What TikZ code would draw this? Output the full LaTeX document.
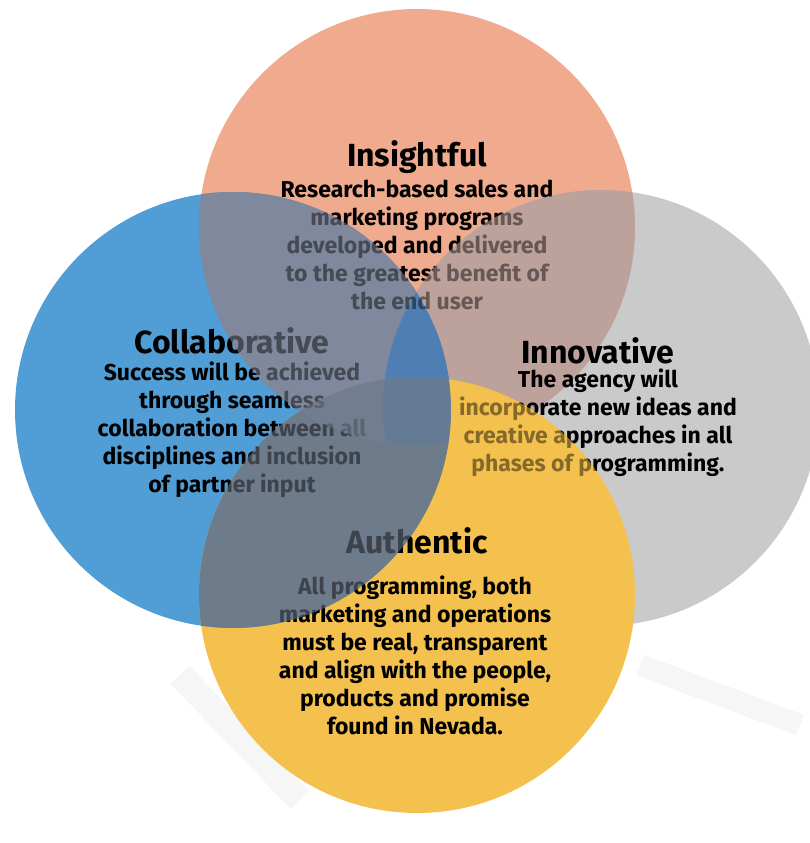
\documentclass[tikz,border=0pt]{standalone}
\usepackage{fontspec}
\setmainfont{Fira Sans}
\usetikzlibrary{positioning}

\definecolor{salmon}{HTML}{F0AA8E}
\definecolor{skyblue}{HTML}{509ED5}
\definecolor{lightgrey}{HTML}{CACACA}
\definecolor{gold}{HTML}{F4C14E}
\definecolor{mauve}{HTML}{BDA19B}
\definecolor{slateblue}{HTML}{7F889C}
\definecolor{midblue}{HTML}{4F7FB2}
\definecolor{slate}{HTML}{6E7B8B}
\definecolor{haze}{HTML}{F6F6F6}

\tikzset{
  heading/.style={font=\fontsize{32pt}{34pt}\selectfont\bfseries, inner sep=0pt},
  blurb/.style={font=\fontsize{23pt}{28pt}\selectfont\bfseries, align=center, inner sep=0pt},
  fade/.style={fill=#1, opacity=.55},
}

\begin{document}
\begin{tikzpicture}[x=1pt,y=-1pt]
		\useasboundingbox (0,0) rectangle (810,843);
		\def\rad{218pt}
		% faint floor reflection
		\draw[haze, line width=26pt] (180,675) -- (300,800);
		\draw[haze, line width=22pt] (640,665) -- (800,725);
		% disc centres
		\coordinate (top) at (417,227);
		\coordinate (left) at (233,410);
		\coordinate (right) at (601,408);
		\coordinate (bottom) at (417,595);
		% base discs
		\fill[salmon] (top) circle[radius=\rad];
		\fill[lightgrey] (right) circle[radius=\rad];
		\fill[skyblue] (left) circle[radius=\rad];
		% overlaps inside the top disc
		\begin{scope}
			\clip (top) circle[radius=\rad];
			\fill[mauve] (right) circle[radius=\rad];
			\fill[slateblue] (left) circle[radius=\rad];
			\clip (right) circle[radius=\rad];
			\fill[midblue] (left) circle[radius=\rad];
		\end{scope}
		% bottom disc and its overlap with the left one
		\fill[gold] (bottom) circle[radius=\rad];
		\begin{scope}
			\clip (left) circle[radius=\rad];
			\fill[slate] (bottom) circle[radius=\rad];
		\end{scope}
		% Headings
		\node[heading] (insight) at (417,157) {Insightful};
		\node[heading] (collab) at (232,341) {Collaborative};
		\node[heading] (innov) at (598,351) {Innovative};
		\node[heading] (auth) at (417,541) {Authentic};
		% Blurbs
		\node[blurb] (insighttxt) at (417,245) {Research-based sales and\\marketing programs\\developed and delivered\\to the greatest benefit of\\the end user};
		\node[blurb] (collabtxt) at (232,430) {Success will be achieved\\through seamless\\collaboration between all\\disciplines and inclusion\\of partner input};
		\node[blurb] (innovtxt) at (598,423) {The agency will\\incorporate new ideas and\\creative approaches in all\\phases of programming.};
		\node[blurb] (authtxt) at (415,655) {All programming, both\\marketing and operations\\must be real, transparent\\and align with the people,\\products and promise\\found in Nevada.};
		% Text lying under the overlaps is washed out
		\begin{scope}
			\clip (top) circle[radius=\rad];
			\clip (left) circle[radius=\rad];
			\fill[fade=slateblue, even odd rule] (0,0) rectangle (810,843) (right) circle[radius=\rad];
			\clip (right) circle[radius=\rad];
			\fill[fade=midblue] (0,0) rectangle (810,843);
		\end{scope}
		\begin{scope}
			\clip (0,0) rectangle (810,325);
			\clip (top) circle[radius=\rad];
			\clip (right) circle[radius=\rad];
			\fill[fade=mauve, even odd rule] (0,0) rectangle (810,843) (left) circle[radius=\rad];
		\end{scope}
		\begin{scope}
			\clip (440,300) rectangle (810,480);
			\clip (bottom) circle[radius=\rad];
			\fill[fade=gold, even odd rule] (0,0) rectangle (810,843) (left) circle[radius=\rad];
		\end{scope}
		\begin{scope}
			\clip (left) circle[radius=\rad];
			\fill[fade=slate] (bottom) circle[radius=\rad];
		\end{scope}
\end{tikzpicture}
\end{document}
